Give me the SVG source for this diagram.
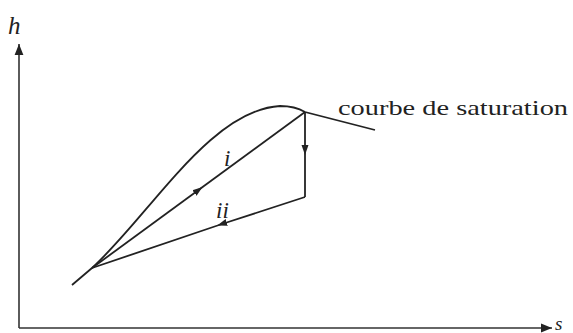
<svg xmlns="http://www.w3.org/2000/svg" width="573" height="333" viewBox="0 0 573 333">
<style>
.ln{fill:none;stroke:#222;stroke-width:1.8}
.ax{fill:none;stroke:#333;stroke-width:1.6}
.t{font-family:"Liberation Serif",serif;fill:#222}
.it{font-family:"Liberation Serif",serif;font-style:italic;fill:#222}
</style>
<defs>
<marker id="ah" viewBox="0 0 10 10" refX="10" refY="5" markerWidth="11" markerHeight="11" markerUnits="userSpaceOnUse" orient="auto">
<path d="M0,1 L10,5 L0,9 Z" fill="#222"/>
</marker>
<marker id="mid" viewBox="0 0 10 10" refX="5" refY="5" markerWidth="10" markerHeight="10" markerUnits="userSpaceOnUse" orient="auto">
<path d="M0,1.5 L10,5 L0,8.5 Z" fill="#222"/>
</marker>
</defs>
<g id="axes">
<line class="ax" x1="19" y1="328" x2="19" y2="44" marker-end="url(#ah)"/>
<line class="ax" x1="19" y1="328" x2="552" y2="328" marker-end="url(#ah)"/>
<text class="it" x="8" y="34" font-size="25">h</text>
<text class="it" x="555" y="330" font-size="19">s</text>
</g>
<g id="curve">
<path class="ln" d="M72,285 L92,268 C150,215 210,110 280,106 C292,106 300,109 305,112 L375,130"/>
<text class="t" x="338" y="115" font-size="22" textLength="230" lengthAdjust="spacingAndGlyphs">courbe de saturation</text>
</g>
<g id="connectors">
<path class="ln" d="M92,268 L198.5,190 L305,112" marker-mid="url(#mid)"/>
<path class="ln" d="M305,112 L305,150 L305,197" marker-mid="url(#mid)"/>
<path class="ln" d="M305,197 L222,224 L92,268" marker-mid="url(#mid)"/>
<text class="it" x="224" y="166" font-size="23">i</text>
<text class="it" x="216" y="218" font-size="23">ii</text>
</g>
</svg>
